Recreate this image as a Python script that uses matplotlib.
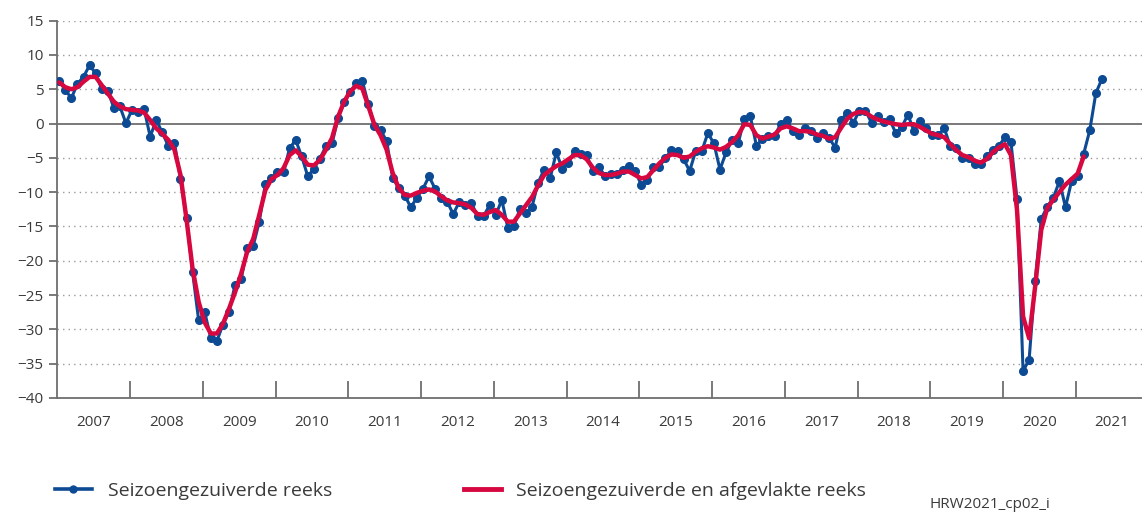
import numpy as np
import matplotlib
matplotlib.use("Agg")
from matplotlib import pyplot as plt
from matplotlib.lines import Line2D

plt.rcParams['font.family'] = ['Open Sans', 'DejaVu Sans']

# maandelijkse reeks, jan 2007 - mei 2021
start_year = 2007
seizoen = [
    6.2, 4.9, 3.7, 5.8, 6.8, 8.5, 7.3, 5.0, 4.8, 2.3, 2.5, 0.05,            # 2007
    2.0, 1.7, 2.1, -1.9, 0.5, -1.3, -3.3, -2.8, -8.1, -13.8, -21.7, -28.7,  # 2008
    -27.5, -31.3, -31.7, -29.3, -27.5, -23.5, -22.7, -18.2, -17.8, -14.3, -8.8, -8.0,
    -7.0, -7.1, -3.6, -2.4, -4.8, -7.7, -6.6, -5.1, -3.3, -2.9, 0.8, 3.1,
    4.6, 5.9, 6.2, 2.8, -0.4, -1.0, -2.5, -7.9, -9.4, -10.5, -12.2, -10.8,
    -9.5, -7.7, -9.5, -10.8, -11.4, -13.2, -11.4, -11.8, -11.6, -13.5, -13.5, -11.9,
    -13.4, -11.1, -15.2, -14.9, -12.5, -13.1, -12.1, -8.6, -6.7, -7.9, -4.2, -6.6,
    -5.7, -4.0, -4.4, -4.6, -6.9, -6.3, -7.6, -7.4, -7.3, -6.8, -6.2, -6.9,
    -8.9, -8.3, -6.3, -6.3, -5.0, -3.9, -4.0, -5.2, -6.9, -4.0, -4.0, -1.4,
    -2.9, -6.7, -4.2, -2.4, -2.9, 0.7, 1.1, -3.2, -2.3, -1.8, -1.8, -0.1,
    0.5, -1.1, -1.7, -0.7, -1.1, -2.1, -1.4, -2.1, -3.5, 0.5, 1.6, 0.1,
    1.9, 1.9, 0.1, 1.1, 0.2, 0.6, -1.4, -0.5, 1.3, -1.1, 0.4, -0.7,
    -1.6, -1.7, -0.7, -3.3, -3.6, -5.0, -5.0, -5.9, -5.9, -4.7, -3.9, -3.3,
    -2.0, -2.7, -11.0, -36.1, -34.4, -22.9, -13.9, -12.1, -10.8, -8.4, -12.2, -8.4,
    -7.6, -4.4, -1.0, 4.4, 6.5,                                              # 2021
]

# afgevlakte reeks, jan 2007 - feb 2021
afgevlakt = [
    6.0, 5.3, 5.0, 5.3, 6.1, 6.8, 6.8, 5.6, 4.4, 3.2, 2.5, 2.1,
    2.0, 1.9, 1.6, 0.5, -0.7, -1.5, -2.4, -3.8, -7.5, -14.0, -21.2, -26.0,
    -29.0, -30.6, -30.6, -29.2, -27.0, -24.6, -21.9, -18.7, -16.8, -13.3, -9.7, -8.1,
    -7.5, -6.5, -4.6, -3.9, -4.8, -6.0, -6.1, -5.3, -3.8, -2.1, 1.0, 3.2,
    4.7, 5.5, 5.1, 2.5, -0.2, -1.7, -3.8, -7.2, -9.4, -10.4, -10.5, -10.1,
    -9.8, -9.6, -9.9, -10.6, -11.2, -11.5, -11.6, -11.8, -12.3, -13.2, -13.3, -12.9,
    -12.6, -13.3, -14.3, -14.3, -13.1, -11.9, -10.7, -9.0, -7.5, -6.8, -6.2, -5.8,
    -5.2, -4.6, -4.6, -5.2, -6.4, -7.2, -7.5, -7.5, -7.3, -7.0, -7.0, -7.5,
    -8.0, -7.8, -6.8, -5.8, -5.0, -4.5, -4.6, -5.0, -4.8, -4.1, -3.6, -3.3,
    -3.5, -3.8, -3.4, -2.7, -1.7, -0.1, -0.2, -1.7, -2.2, -1.9, -1.6, -0.7,
    -0.4, -0.7, -1.1, -1.1, -1.2, -1.6, -1.8, -2.2, -2.0, -0.6, 0.7, 1.4,
    1.7, 1.6, 1.0, 0.6, 0.3, 0.1, -0.1, -0.2, -0.1, -0.1, -0.5, -1.0,
    -1.5, -1.7, -2.0, -3.0, -3.9, -4.6, -4.9, -5.4, -5.7, -5.2, -4.2, -3.5,
    -3.0, -4.6, -12.6, -28.1, -31.3, -23.7, -15.5, -12.3, -11.1, -10.0, -8.9, -8.1,
    -7.3, -4.8,
]

years = list(range(2007, 2022))
y_ticks = [15, 10, 5, 0, -5, -10, -15, -20, -25, -30, -35, -40]

blue = '#0d4a94'
red = '#d6083f'
grey = '#6e6e6e'
txt = '#3a3a3a'

x_blue = start_year + (np.arange(len(seizoen)) + 0.3) / 12
x_red = start_year + (np.arange(len(afgevlakt)) + 0.3) / 12

fig = plt.figure(figsize=(11.42, 5.16), dpi=100)
ax = fig.add_axes([0.0503, 0.2287, 0.9497, 0.7313])

for v in y_ticks:
    if v == 0:
        ax.axhline(0, color=grey, lw=1.3, zorder=1)
    elif v != -40:
        ax.axhline(v, color='#9a9a9a', lw=1.0, ls=(0, (1, 3)), zorder=0)

ax.plot(x_blue, seizoen, color=blue, lw=2.2, marker='o', ms=5.5, zorder=3)
ax.plot(x_red, afgevlakt, color=red, lw=3.2, zorder=4, solid_capstyle='round')

ax.set_xlim(2007, 2021.91)
ax.set_ylim(-40, 15)
ax.set_yticks(y_ticks)
ax.set_yticklabels([str(v).replace('-', '\u2212') for v in y_ticks])

ax.set_xticks(years[1:])
ax.set_xticklabels([])
ax.set_xticks([y + 0.5 for y in years], minor=True)
ax.set_xticklabels([str(y) for y in years], minor=True)
ax.tick_params(axis='x', which='major', direction='in', length=12, width=1.3, color=grey)
ax.tick_params(axis='x', which='minor', length=0, pad=12, labelsize=11, labelcolor=txt)
ax.tick_params(axis='y', direction='out', length=6, width=1.3, color=grey, labelsize=11,
               labelcolor=txt, pad=4)

for s in ['top', 'right']:
    ax.spines[s].set_visible(False)
for s in ['left', 'bottom']:
    ax.spines[s].set_color(grey)
    ax.spines[s].set_linewidth(1.3)

handles = [
    Line2D([], [], color=blue, lw=2.6, marker='o', ms=5),
    Line2D([], [], color=red, lw=3.5),
]
fig.legend(handles, ['Seizoengezuiverde reeks', 'Seizoengezuiverde en afgevlakte reeks'],
           loc='center left', bbox_to_anchor=(55 / 1142, 1 - 491 / 516), ncol=2,
           frameon=False, borderpad=0, borderaxespad=0,
           fontsize=14, handlelength=1.9, handletextpad=0.8, columnspacing=6.8,
           labelcolor=txt)

fig.text(929 / 1142, 1 - 504 / 516, 'HRW2021_cp02_i', fontsize=11, color=txt,
         ha='left', va='center')

fig.savefig('out.png', dpi=100)
